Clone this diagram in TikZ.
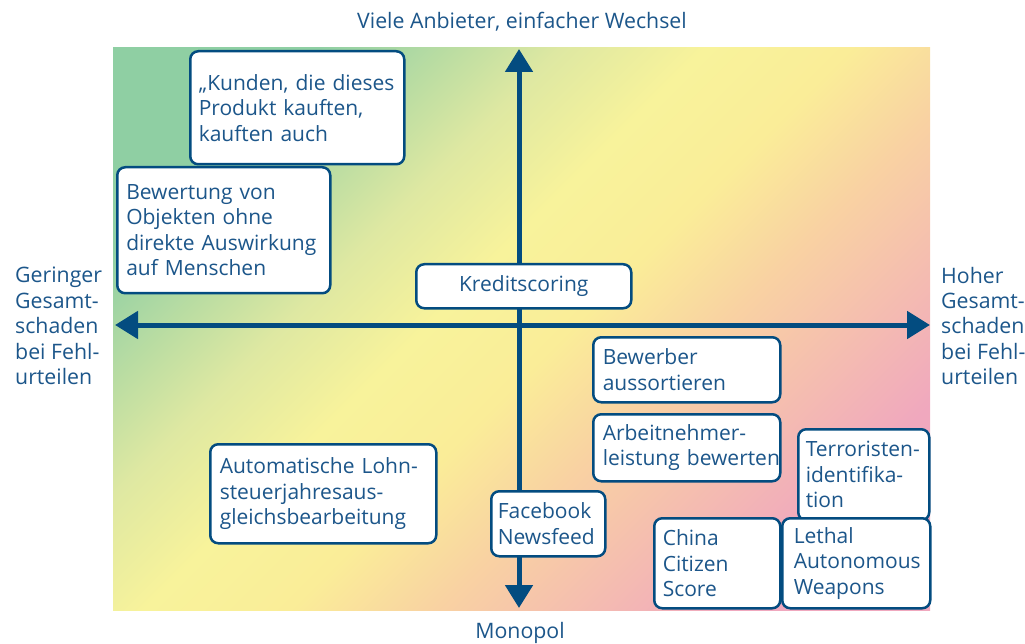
\documentclass[tikz,border=0pt]{standalone}
\usepackage{fontspec}
\setmainfont{Open Sans}
\usetikzlibrary{arrows.meta}

\definecolor{txtblue}{RGB}{28,86,138}
\definecolor{axblue}{RGB}{3,76,128}
\definecolor{cgreen}{RGB}{143,207,163}
\definecolor{clime}{RGB}{222,232,162}
\definecolor{clight}{RGB}{248,243,155}
\definecolor{cyellow}{RGB}{250,237,152}
\definecolor{corange}{RGB}{249,210,162}
\definecolor{cpink}{RGB}{240,168,190}

\pgfdeclareverticalshading{quadrant}{100bp}{color(0bp)=(cpink); color(25bp)=(cpink); color(40bp)=(corange); color(47.5bp)=(cyellow); color(55bp)=(clight); color(62.5bp)=(clime); color(75bp)=(cgreen); color(100bp)=(cgreen)}

\begin{document}
\begin{tikzpicture}[x=1pt, y=-1pt,
    every node/.style={font=\fontsize{21.3}{25.4}\selectfont, text=txtblue},
    box/.style={draw=axblue, line width=2.5pt, rounded corners=8pt, fill=white,
        font=\fontsize{21}{25.4}\selectfont,
        anchor=north west, align=left, inner xsep=8.5pt, inner ysep=0pt,
        execute at begin node={\hyphenpenalty=10000\exhyphenpenalty=10000\hbadness=10000\hfuzz=50pt}},
    axis/.style={draw=axblue, line width=5pt,
        {Triangle[length=23pt,width=27pt]}-{Triangle[length=23pt,width=27pt]}}]
    \useasboundingbox (0,0) rectangle (1025,644);

    \def\xl{113}
    \def\xr{930}
    \def\yt{48}
    \def\yb{610}
    \shade[shading=quadrant, shading angle=45] (\xl,\yt) rectangle (\xr,\yb);

    \coordinate (west) at (115,325);
    \coordinate (east) at (930,325);
    \coordinate (north) at (519,49);
    \coordinate (south) at (519,608);
    \draw[axis] (west) -- (east);
    \draw[axis] (south) -- (north);

    \node (anbieter) at (522,22) {Viele Anbieter, einfacher Wechsel};
    \node (monopol) at (520,633) {Monopol};
    \node[align=left, anchor=west, inner sep=0pt] (gering) at (15,326) {Geringer\\Gesamt-\\schaden\\bei Fehl-\\urteilen};
    \node[align=left, anchor=west, inner sep=0pt] (hoch) at (941,326) {Hoher\\Gesamt-\\schaden\\bei Fehl-\\urteilen};

    \node[box, text width=197pt, minimum height=113pt] (kunden) at (189,50) {„Kunden,~die~dieses\\Produkt~kauften,\\kauften~auch};
    \node[box, text width=195pt, minimum height=126pt, inner xsep=9pt] (objekte) at (116,166) {Bewertung~von\\Objekten~ohne\\direkte~Auswirkung\\auf~Menschen};
    \node[box, align=center, text width=198pt, minimum height=44pt] (kredit) at (415,263) {Kreditscoring};
    \node[box, text width=168pt, minimum height=65pt, inner xsep=9.5pt] (bewerber) at (592,336) {Bewerber\\aussortieren};
    \node[box, text width=168pt, minimum height=67pt, inner xsep=9.5pt] (arbeit) at (592,413) {Arbeitnehmer-\\leistung~bewerten};
    \node[box, text width=116pt, minimum height=91pt, inner xsep=7.5pt] (terror) at (797,428) {Terroristen-\\identifika-\\tion};
    \node[box, text width=207pt, minimum height=99pt, inner xsep=9.5pt] (lohn) at (209,443) {Automatische~Lohn-\\steuerjahresaus-\\gleichsbearbeitung};
    \node[box, text width=101pt, minimum height=65pt, inner xsep=6.5pt] (facebook) at (490,490) {Facebook\\Newsfeed};
    \node[box, text width=109pt, minimum height=90pt] (china) at (653,517) {China\\Citizen\\Score};
    \node[box, text width=125pt, minimum height=90pt, inner xsep=11.5pt] (lethal) at (781,517) {Lethal\\Autonomous\\Weapons};
\end{tikzpicture}
\end{document}
